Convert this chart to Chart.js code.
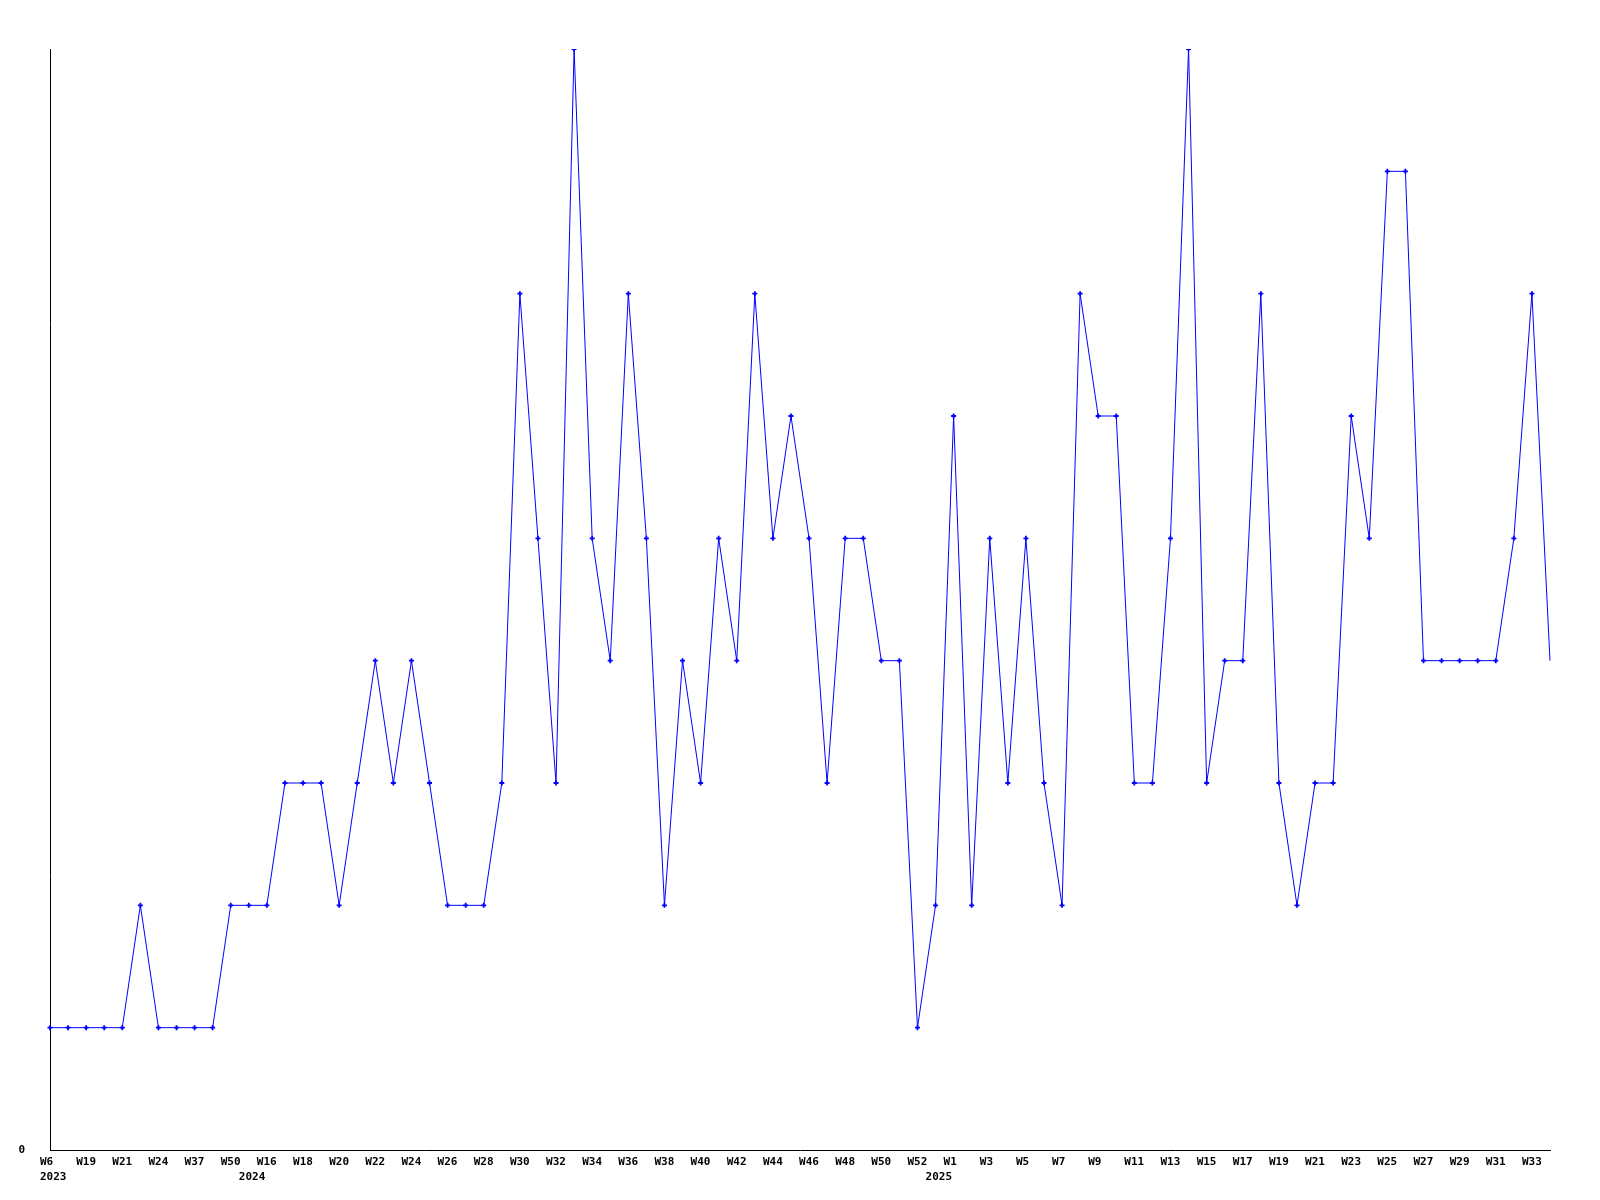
<!DOCTYPE html>
<html>
<head>
<meta charset="utf-8">
<script src="https://cdn.jsdelivr.net/npm/chart.js@4/dist/chart.umd.min.js"></script>
<style>
  body { margin: 0; background: #fff; }
  #weekChart { display: block; }
</style>
</head>
<body>
<canvas id="weekChart" width="1600" height="1200"></canvas>
<script>
// week labels, one per point (only every second one is shown)
const weeks = [
  'W6', 'W12', 'W19', 'W20', 'W21', 'W22', 'W24', 'W30', 'W37', 'W44', 'W50', 'W8',
  'W16', 'W17', 'W18', 'W19', 'W20', 'W21', 'W22', 'W23', 'W24', 'W25', 'W26', 'W27',
  'W28', 'W29', 'W30', 'W31', 'W32', 'W33', 'W34', 'W35', 'W36', 'W37', 'W38', 'W39',
  'W40', 'W41', 'W42', 'W43', 'W44', 'W45', 'W46', 'W47', 'W48', 'W49', 'W50', 'W51',
  'W52', 'W53',
  'W1', 'W2', 'W3', 'W4', 'W5', 'W6', 'W7', 'W8', 'W9', 'W10', 'W11', 'W12',
  'W13', 'W14', 'W15', 'W16', 'W17', 'W18', 'W19', 'W20', 'W21', 'W22', 'W23', 'W24',
  'W25', 'W26', 'W27', 'W28', 'W29', 'W30', 'W31', 'W32', 'W33', 'W34'
];
const years = [
  2023, 2023, 2023, 2023, 2023, 2023, 2023, 2023, 2023, 2023, 2023, 2024,
  2024, 2024, 2024, 2024, 2024, 2024, 2024, 2024, 2024, 2024, 2024, 2024,
  2024, 2024, 2024, 2024, 2024, 2024, 2024, 2024, 2024, 2024, 2024, 2024,
  2024, 2024, 2024, 2024, 2024, 2024, 2024, 2024, 2024, 2024, 2024, 2024,
  2024, 2025,
  2025, 2025, 2025, 2025, 2025, 2025, 2025, 2025, 2025, 2025, 2025, 2025,
  2025, 2025, 2025, 2025, 2025, 2025, 2025, 2025, 2025, 2025, 2025, 2025,
  2025, 2025, 2025, 2025, 2025, 2025, 2025, 2025, 2025, 2025
];
const counts = [
  1, 1, 1, 1, 1, 2, 1, 1, 1, 1, 2, 2,
  2, 3, 3, 3, 2, 3, 4, 3, 4, 3, 2, 2,
  2, 3, 7, 5, 3, 9, 5, 4, 7, 5, 2, 4,
  3, 5, 4, 7, 5, 6, 5, 3, 5, 5, 4, 4,
  1, 2,
  6, 2, 5, 3, 5, 3, 2, 7, 6, 6, 3, 3,
  5, 9, 3, 4, 4, 7, 3, 2, 3, 3, 6, 5,
  8, 8, 4, 4, 4, 4, 4, 5, 7, 4
];
const yMin = 0;
const yMax = 9;

const monoFont = { family: "'DejaVu Sans Mono', monospace", size: 11, weight: 'bold', lineHeight: 1.35 };

const ctx = document.getElementById('weekChart');
const weekChart = new Chart(ctx, {
  type: 'line',
  data: {
    labels: weeks,
    datasets: [{
      data: counts,
      borderColor: '#0000ff',
      backgroundColor: '#0000ff',
      borderWidth: 1,
      pointStyle: 'cross',
      pointRadius: c => (c.dataIndex === counts.length - 1 ? 0 : 2.5),
      pointBorderWidth: 1.8,
      pointBorderColor: '#0000ff',
      tension: 0,
      fill: false
    }]
  },
  options: {
    responsive: false,
    animation: false,
    layout: { padding: { top: 49, right: 50, left: 0, bottom: 0 } },
    plugins: {
      legend: { display: false },
      tooltip: { enabled: false }
    },
    scales: {
      x: {
        grid: { display: false, drawTicks: false },
        border: { display: true, color: '#000', width: 1 },
        afterFit: s => { s.height = 50; },
        ticks: {
          autoSkip: false,
          maxRotation: 0,
          minRotation: 0,
          align: 'start',
          labelOffset: -10,
          padding: 5,
          color: '#000',
          font: monoFont,
          callback: (v, i) => {
            // week on even points, year under the first point of each year
            const wk = i % 2 === 0 ? weeks[i] : '';
            if (i === 0 || years[i] !== years[i - 1]) return [wk, String(years[i])];
            return wk;
          }
        }
      },
      y: {
        min: yMin,
        max: yMax,
        grid: { display: false, drawTicks: false },
        border: { display: true, color: '#000', width: 1 },
        afterFit: s => { s.width = 50; },
        ticks: {
          stepSize: 1,
          padding: 25,
          color: '#000',
          font: monoFont,
          callback: v => (v === 0 ? '0' : '')
        }
      }
    }
  }
});
</script>
</body>
</html>
